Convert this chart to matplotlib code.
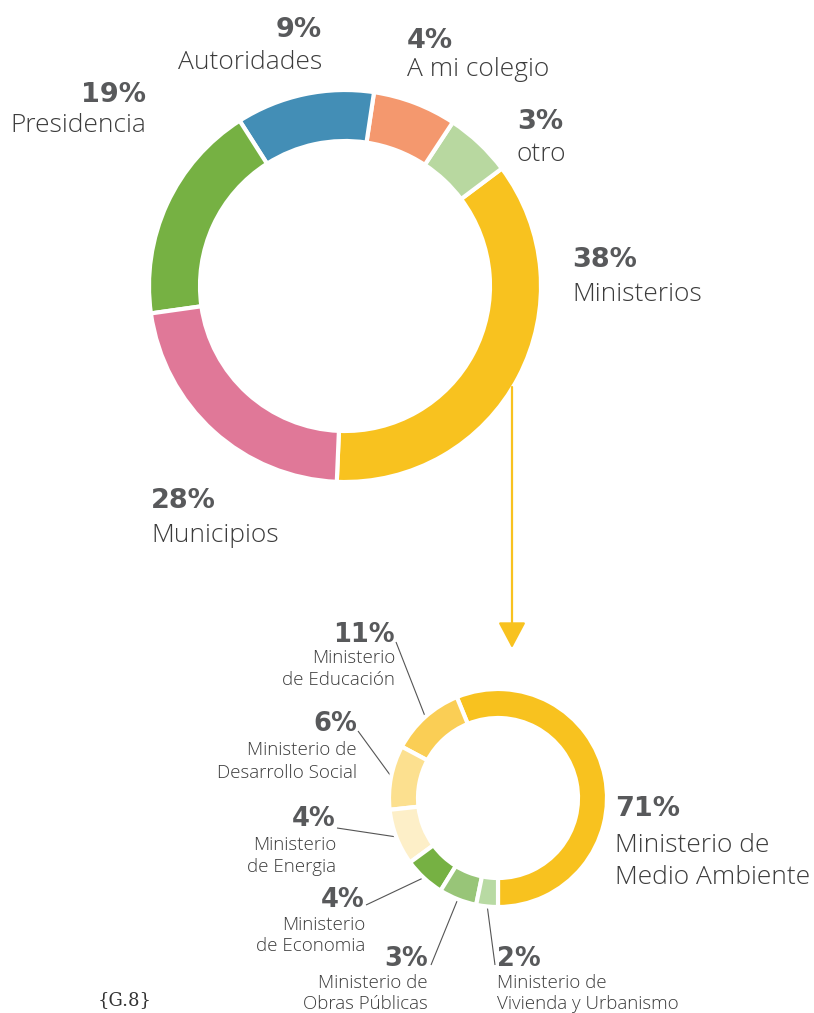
import numpy as np
import matplotlib
matplotlib.use("Agg")
import matplotlib.pyplot as plt

W, H = 814, 1013

# ---- data (top donut) ----
top_categories = ["Ministerios", "otro", "A mi colegio", "Autoridades", "Presidencia", "Municipios"]
top_shares = [35.9, 5.5, 6.9, 11.4, 18.2, 22.1]          # arc shares as drawn
top_pct_labels = ["38%", "3%", "4%", "9%", "19%", "28%"]
top_colors = ["#F8C21F", "#B8D8A0", "#F4986E", "#438EB6", "#76B143", "#E07898"]

# ---- data (bottom donut: breakdown of Ministerios) ----
bot_line1 = ["Ministerio de", "Ministerio", "Ministerio de", "Ministerio", "Ministerio", "Ministerio de", "Ministerio de"]
bot_line2 = ["Medio Ambiente", "de Educación", "Desarrollo Social", "de Energia", "de Economia", "Obras Públicas", "Vivienda y Urbanismo"]
bot_shares = [56.0, 11.0, 9.5, 8.3, 6.1, 5.6, 3.2]
bot_pct_labels = ["71%", "11%", "6%", "4%", "4%", "3%", "2%"]
bot_colors = ["#F8C21F", "#FACE55", "#FCE08F", "#FDEFC8", "#76B143", "#98C578", "#B8DAA3"]

PCT_COLOR = "#58595B"
LBL_COLOR = "#3c3c3c"
BOLD = dict(family=["DejaVu Sans"], weight="bold", color=PCT_COLOR)
LIGHT = dict(family=["Open Sans", "DejaVu Sans"], weight="light", color=LBL_COLOR)


def Y(y):
    return H - y


fig = plt.figure(figsize=(W / 100, H / 100), dpi=100)
ax = fig.add_axes([0, 0, 1, 1])

# top donut
tc = (345, Y(286))
ax.pie(top_shares, colors=top_colors, startangle=-92.4, counterclock=True,
       radius=196, center=tc, frame=True,
       wedgeprops=dict(width=51, edgecolor="white", linewidth=3))

# bottom donut
bc = (498, Y(798))
ax.pie(bot_shares, colors=bot_colors, startangle=-90, counterclock=True,
       radius=109, center=bc, frame=True,
       wedgeprops=dict(width=29, edgecolor="white", linewidth=3))

# arrow
ax.annotate("", xy=(512, Y(648)), xytext=(512, Y(387)),
            arrowprops=dict(arrowstyle="-|>,head_length=1.6,head_width=0.85",
                            mutation_scale=10, color="#F8C21F", lw=1.6,
                            shrinkA=0, shrinkB=0))

# ---- top labels (x, ha, baseline pct, baseline label) ----
top_pos = {
    "Ministerios": (572, "left", 267, 301),
    "otro": (517, "left", 129, 161),
    "A mi colegio": (407, "left", 48, 76),
    "Autoridades": (322, "right", 37, 69),
    "Presidencia": (146, "right", 102, 132),
    "Municipios": (151, "left", 508, 542),
}
for cat, pct in zip(top_categories, top_pct_labels):
    x, ha, yb1, yb2 = top_pos[cat]
    ax.text(x, Y(yb1), pct, ha=ha, va="baseline", fontsize=19.5, **BOLD)
    ax.text(x, Y(yb2), cat, ha=ha, va="baseline", fontsize=19, **LIGHT)

# ---- bottom labels ----
# (x, ha, baseline pct, baseline l1, baseline l2, pct size, label size, leader start)
bot_pos = [
    (615, "left", 816, 852, 884, 19.5, 19, None),
    (395, "right", 642, 663, 685, 18.5, 13.5, (396, 642)),
    (357, "right", 731, 755, 778, 18.5, 13.5, (358, 731)),
    (336, "right", 826, 850, 872, 18.5, 13.5, (337, 828)),
    (365, "right", 907, 930, 951, 18.5, 13.5, (366, 905)),
    (428, "right", 966, 988, 1009, 18.5, 13.5, (431, 965)),
    (497, "left", 966, 988, 1009, 18.5, 13.5, (495, 965)),
]
total = float(sum(bot_shares))
cum = 0.0
R_out = 109
for i, (share, pct, l1, l2) in enumerate(zip(bot_shares, bot_pct_labels, bot_line1, bot_line2)):
    x, ha, b0, b1, b2, fs_p, fs_l, lead = bot_pos[i]
    mid = np.deg2rad(-90 + 360 * (cum + share / 2) / total)
    cum += share
    ax.text(x, Y(b0), pct, ha=ha, va="baseline", fontsize=fs_p, **BOLD)
    ax.text(x, Y(b1), l1, ha=ha, va="baseline", fontsize=fs_l, **LIGHT)
    ax.text(x, Y(b2), l2, ha=ha, va="baseline", fontsize=fs_l, **LIGHT)
    if lead is not None:
        ex = bc[0] + (R_out - 1) * np.cos(mid)
        ey = bc[1] + (R_out - 1) * np.sin(mid)
        ax.plot([lead[0], ex], [Y(lead[1]), ey], color="#555555", lw=0.8,
                solid_capstyle="butt", zorder=0.5)

ax.text(98, Y(1005), "{G.8}", ha="left", va="baseline", fontsize=13,
        family=["DejaVu Serif"], color="#333333")

ax.set_xlim(0, W)
ax.set_ylim(0, H)
ax.set_aspect("equal")
ax.axis("off")
fig.savefig("out.png", dpi=100, facecolor="white")
